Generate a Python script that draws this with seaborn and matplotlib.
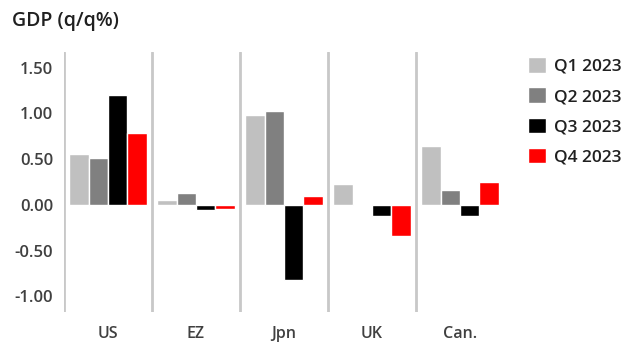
import numpy as np
import pandas as pd
import matplotlib
matplotlib.use("Agg")
import matplotlib.pyplot as plt
import seaborn as sns

# data
countries = ["US", "EZ", "Jpn", "UK", "Can."]
quarters = ["Q1 2023", "Q2 2023", "Q3 2023", "Q4 2023"]
q1 = [0.56, 0.05, 0.98, 0.23, 0.64]
q2 = [0.51, 0.13, 1.03, 0.01, 0.16]
q3 = [1.20, -0.06, -0.82, -0.12, -0.12]
q4 = [0.79, -0.05, 0.10, -0.34, 0.25]
colors = ["#c0c0c0", "#808080", "#000000", "#ff0000"]

df = pd.DataFrame({
    "Country": np.tile(countries, 4),
    "Quarter": np.repeat(quarters, len(countries)),
    "GDP": q1 + q2 + q3 + q4,
})

sns.set_style("white")
plt.rcParams["font.family"] = ["Open Sans", "DejaVu Sans"]

fig = plt.figure(figsize=(6.38, 3.42), dpi=100)
ax = fig.add_axes([64 / 638, 30 / 342, 440 / 638, 260 / 342])
sns.barplot(data=df, x="Country", y="GDP", hue="Quarter", palette=colors,
            saturation=1, width=0.88, edgecolor="white", linewidth=1, ax=ax)

ax.set_ylim(-1.17, 1.67)
ax.set_xlim(-0.5, 4.5)
ax.set_yticks([-1.0, -0.5, 0.0, 0.5, 1.0, 1.5])
ax.set_yticklabels([f"{v:.2f}" for v in ax.get_yticks()])
ax.tick_params(axis="y", length=0, pad=8, labelsize=12, labelcolor="#404040")
ax.tick_params(axis="x", length=0, pad=10, labelsize=11.5, labelcolor="#404040")
for lab in ax.get_xticklabels() + ax.get_yticklabels():
    lab.set_fontweight("semibold")
ax.set_xlabel("")
ax.set_ylabel("")
for s in ax.spines.values():
    s.set_visible(False)
for xv in [-0.5, 0.5, 1.5, 2.5, 3.5]:
    ax.axvline(xv, color="#c8c8c8", lw=2)

leg = ax.legend(loc="upper left", bbox_to_anchor=(1.02, 1.04), frameon=False,
                handlelength=1.0, handleheight=1.0, handletextpad=0.5,
                labelspacing=0.72, fontsize=12.5)
for t in leg.get_texts():
    t.set_fontweight("semibold")
    t.set_color("#202020")

fig.text(12 / 638, 1 - 21 / 342, "GDP (q/q%)", fontsize=14, fontweight="semibold",
         va="center", ha="left", color="#202020")

fig.savefig("out.png", dpi=100)
